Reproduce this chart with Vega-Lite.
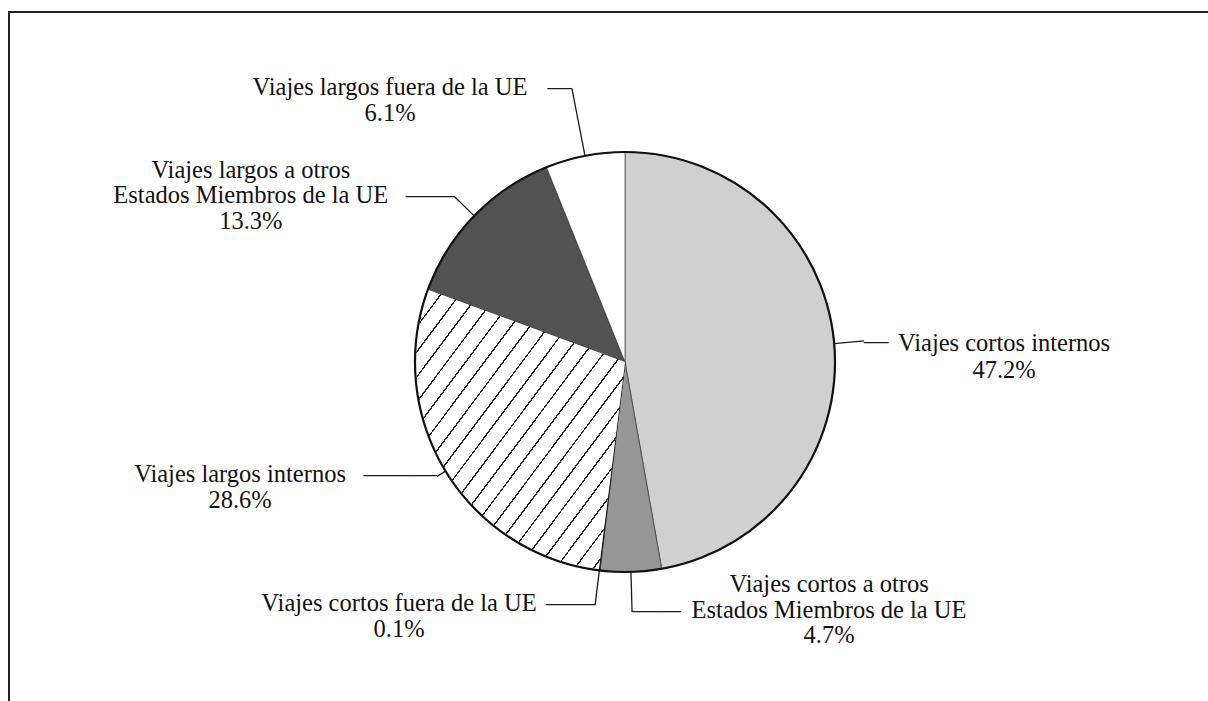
{
  "$schema": "https://vega.github.io/schema/vega-lite/v6.json",
  "width": 1232,
  "height": 700,
  "autosize": {"type": "none"},
  "padding": {"left": 9, "top": 12, "right": -33, "bottom": -11},
  "background": "white",
  "config": {"view": {"stroke": "#222222", "strokeWidth": 2}},
  "data": {
    "values": [
      {"orden": 1, "categoria": "Viajes cortos internos", "valor": 47.2, "lineas": ["Viajes cortos internos", "47.2%"]},
      {"orden": 2, "categoria": "Viajes cortos a otros Estados Miembros de la UE", "valor": 4.7, "lineas": ["Viajes cortos a otros", "Estados Miembros de la UE", "4.7%"]},
      {"orden": 3, "categoria": "Viajes cortos fuera de la UE", "valor": 0.1, "lineas": ["Viajes cortos fuera de la UE", "0.1%"]},
      {"orden": 4, "categoria": "Viajes largos internos", "valor": 28.6, "lineas": ["Viajes largos internos", "28.6%"]},
      {"orden": 5, "categoria": "Viajes largos a otros Estados Miembros de la UE", "valor": 13.3, "lineas": ["Viajes largos a otros", "Estados Miembros de la UE", "13.3%"]},
      {"orden": 6, "categoria": "Viajes largos fuera de la UE", "valor": 6.1, "lineas": ["Viajes largos fuera de la UE", "6.1%"]}
    ]
  },
  "transform": [
    {"window": [{"op": "sum", "field": "valor", "as": "acum"}], "sort": [{"field": "orden"}], "frame": [null, 0]},
    {"calculate": "datum.acum - datum.valor / 2", "as": "mid"}
  ],
  "layer": [
    {
      "mark": {"type": "rule", "strokeOpacity": 0},
      "encoding": {"x": {"datum": 0, "type": "quantitative", "scale": {"domain": [0, 1]}, "axis": null}}
    },
    {
      "mark": {"type": "arc", "outerRadius": 210, "stroke": "#222222", "strokeWidth": 0.6},
      "encoding": {
        "theta": {"field": "valor", "type": "quantitative", "stack": true, "scale": {"domain": [0, 100]}},
        "order": {"field": "orden", "type": "quantitative"},
        "color": {
          "field": "categoria", "type": "nominal", "legend": null,
          "scale": {
            "domain": ["Viajes cortos internos", "Viajes cortos a otros Estados Miembros de la UE", "Viajes cortos fuera de la UE", "Viajes largos internos", "Viajes largos a otros Estados Miembros de la UE", "Viajes largos fuera de la UE"],
            "range": ["#d0d0d0", "#969696", "#111111", "#ffffff", "#525252", "#ffffff"]
          }
        }
      }
    },
    {
      "mark": {
        "type": "arc", "outerRadius": 209, "strokeWidth": 0,
        "fill": {
          "gradient": "linear", "x1": 0, "y1": 0, "x2": 1, "y2": 1,
          "stops": [
            {"offset": 0, "color": "#ffffff"},
            {"offset": 0.0205, "color": "#ffffff"}, {"offset": 0.0205, "color": "#222222"}, {"offset": 0.0245, "color": "#222222"}, {"offset": 0.0245, "color": "#ffffff"},
            {"offset": 0.0655, "color": "#ffffff"}, {"offset": 0.0655, "color": "#222222"}, {"offset": 0.0695, "color": "#222222"}, {"offset": 0.0695, "color": "#ffffff"},
            {"offset": 0.1105, "color": "#ffffff"}, {"offset": 0.1105, "color": "#222222"}, {"offset": 0.1145, "color": "#222222"}, {"offset": 0.1145, "color": "#ffffff"},
            {"offset": 0.1555, "color": "#ffffff"}, {"offset": 0.1555, "color": "#222222"}, {"offset": 0.1595, "color": "#222222"}, {"offset": 0.1595, "color": "#ffffff"},
            {"offset": 0.2005, "color": "#ffffff"}, {"offset": 0.2005, "color": "#222222"}, {"offset": 0.2045, "color": "#222222"}, {"offset": 0.2045, "color": "#ffffff"},
            {"offset": 0.2455, "color": "#ffffff"}, {"offset": 0.2455, "color": "#222222"}, {"offset": 0.2495, "color": "#222222"}, {"offset": 0.2495, "color": "#ffffff"},
            {"offset": 0.2905, "color": "#ffffff"}, {"offset": 0.2905, "color": "#222222"}, {"offset": 0.2945, "color": "#222222"}, {"offset": 0.2945, "color": "#ffffff"},
            {"offset": 0.3355, "color": "#ffffff"}, {"offset": 0.3355, "color": "#222222"}, {"offset": 0.3395, "color": "#222222"}, {"offset": 0.3395, "color": "#ffffff"},
            {"offset": 0.3805, "color": "#ffffff"}, {"offset": 0.3805, "color": "#222222"}, {"offset": 0.3845, "color": "#222222"}, {"offset": 0.3845, "color": "#ffffff"},
            {"offset": 0.4255, "color": "#ffffff"}, {"offset": 0.4255, "color": "#222222"}, {"offset": 0.4295, "color": "#222222"}, {"offset": 0.4295, "color": "#ffffff"},
            {"offset": 0.4705, "color": "#ffffff"}, {"offset": 0.4705, "color": "#222222"}, {"offset": 0.4745, "color": "#222222"}, {"offset": 0.4745, "color": "#ffffff"},
            {"offset": 0.5155, "color": "#ffffff"}, {"offset": 0.5155, "color": "#222222"}, {"offset": 0.5195, "color": "#222222"}, {"offset": 0.5195, "color": "#ffffff"},
            {"offset": 0.5605, "color": "#ffffff"}, {"offset": 0.5605, "color": "#222222"}, {"offset": 0.5645, "color": "#222222"}, {"offset": 0.5645, "color": "#ffffff"},
            {"offset": 0.6055, "color": "#ffffff"}, {"offset": 0.6055, "color": "#222222"}, {"offset": 0.6095, "color": "#222222"}, {"offset": 0.6095, "color": "#ffffff"},
            {"offset": 0.6505, "color": "#ffffff"}, {"offset": 0.6505, "color": "#222222"}, {"offset": 0.6545, "color": "#222222"}, {"offset": 0.6545, "color": "#ffffff"},
            {"offset": 0.6955, "color": "#ffffff"}, {"offset": 0.6955, "color": "#222222"}, {"offset": 0.6995, "color": "#222222"}, {"offset": 0.6995, "color": "#ffffff"},
            {"offset": 0.7405, "color": "#ffffff"}, {"offset": 0.7405, "color": "#222222"}, {"offset": 0.7445, "color": "#222222"}, {"offset": 0.7445, "color": "#ffffff"},
            {"offset": 0.7855, "color": "#ffffff"}, {"offset": 0.7855, "color": "#222222"}, {"offset": 0.7895, "color": "#222222"}, {"offset": 0.7895, "color": "#ffffff"},
            {"offset": 0.8305, "color": "#ffffff"}, {"offset": 0.8305, "color": "#222222"}, {"offset": 0.8345, "color": "#222222"}, {"offset": 0.8345, "color": "#ffffff"},
            {"offset": 0.8755, "color": "#ffffff"}, {"offset": 0.8755, "color": "#222222"}, {"offset": 0.8795, "color": "#222222"}, {"offset": 0.8795, "color": "#ffffff"},
            {"offset": 0.9205, "color": "#ffffff"}, {"offset": 0.9205, "color": "#222222"}, {"offset": 0.9245, "color": "#222222"}, {"offset": 0.9245, "color": "#ffffff"},
            {"offset": 0.9655, "color": "#ffffff"}, {"offset": 0.9655, "color": "#222222"}, {"offset": 0.9695, "color": "#222222"}, {"offset": 0.9695, "color": "#ffffff"},
            {"offset": 1, "color": "#ffffff"}
          ]
        }
      },
      "encoding": {
        "theta": {"field": "valor", "type": "quantitative", "stack": true, "scale": {"domain": [0, 100]}},
        "order": {"field": "orden", "type": "quantitative"},
        "fillOpacity": {"condition": {"test": "datum.orden == 4", "value": 1}, "value": 0}
      }
    },
    {
      "mark": {"type": "arc", "outerRadius": 210, "fillOpacity": 0, "stroke": "#111111", "strokeWidth": 2.2},
      "encoding": {
        "theta": {"aggregate": "sum", "field": "valor", "type": "quantitative", "scale": {"domain": [0, 100]}}
      }
    },
    {
      "transform": [{"filter": "datum.orden == 1"}],
      "encoding": {"theta": {"field": "mid", "type": "quantitative", "stack": null, "scale": {"domain": [0, 100]}}},
      "layer": [
        {"mark": {"type": "arc", "innerRadius": 210, "outerRadius": 240, "fillOpacity": 0, "stroke": "#1a1a1a", "strokeWidth": 1.3}, "encoding": {"theta2": {"field": "mid"}}},
        {"mark": {"type": "text", "text": "—", "radius": 240, "align": "left", "baseline": "middle", "dy": 1, "font": "Liberation Serif", "fontSize": 24.5, "fill": "#1a1a1a"}},
        {"mark": {"type": "text", "radius": 240, "align": "center", "baseline": "top", "dx": 140, "dy": -9, "font": "Liberation Serif", "fontSize": 24.5, "lineHeight": 27, "fill": "#111111"}, "encoding": {"text": {"field": "lineas"}}}
      ]
    },
    {
      "transform": [{"filter": "datum.orden == 2"}],
      "encoding": {"theta": {"field": "mid", "type": "quantitative", "stack": null, "scale": {"domain": [0, 100]}}},
      "layer": [
        {"mark": {"type": "arc", "innerRadius": 210, "outerRadius": 250, "fillOpacity": 0, "stroke": "#1a1a1a", "strokeWidth": 1.3}, "encoding": {"theta2": {"field": "mid"}}},
        {"mark": {"type": "text", "text": "——", "radius": 250, "align": "left", "baseline": "middle", "dy": -1, "font": "Liberation Serif", "fontSize": 24.5, "fill": "#1a1a1a"}},
        {"mark": {"type": "text", "radius": 250, "align": "center", "baseline": "top", "dx": 197, "dy": -38.5, "font": "Liberation Serif", "fontSize": 24.5, "lineHeight": 25.5, "fill": "#111111"}, "encoding": {"text": {"field": "lineas"}}}
      ]
    },
    {
      "transform": [{"filter": "datum.orden == 3"}],
      "encoding": {"theta": {"field": "mid", "type": "quantitative", "stack": null, "scale": {"domain": [0, 100]}}},
      "layer": [
        {"mark": {"type": "arc", "innerRadius": 210, "outerRadius": 245, "fillOpacity": 0, "stroke": "#1a1a1a", "strokeWidth": 1.3}, "encoding": {"theta2": {"field": "mid"}}},
        {"mark": {"type": "text", "text": "——", "radius": 245, "align": "right", "baseline": "middle", "dy": -1, "font": "Liberation Serif", "fontSize": 24.5, "fill": "#1a1a1a"}},
        {"mark": {"type": "text", "radius": 245, "align": "center", "baseline": "top", "dx": -196, "dy": -13, "font": "Liberation Serif", "fontSize": 24.5, "lineHeight": 26, "fill": "#111111"}, "encoding": {"text": {"field": "lineas"}}}
      ]
    },
    {
      "transform": [{"filter": "datum.orden == 4"}],
      "encoding": {"theta": {"field": "mid", "type": "quantitative", "stack": null, "scale": {"domain": [0, 100]}}},
      "layer": [
        {"mark": {"type": "arc", "innerRadius": 210, "outerRadius": 220, "fillOpacity": 0, "stroke": "#1a1a1a", "strokeWidth": 1.3}, "encoding": {"theta2": {"field": "mid"}}},
        {"mark": {"type": "text", "text": "———", "radius": 220, "align": "right", "baseline": "middle", "dy": -1, "font": "Liberation Serif", "fontSize": 24.5, "fill": "#1a1a1a"}},
        {"mark": {"type": "text", "radius": 220, "align": "center", "baseline": "top", "dx": -197, "dy": -13, "font": "Liberation Serif", "fontSize": 24.5, "lineHeight": 25.5, "fill": "#111111"}, "encoding": {"text": {"field": "lineas"}}}
      ]
    },
    {
      "transform": [{"filter": "datum.orden == 5"}],
      "encoding": {"theta": {"field": "mid", "type": "quantitative", "stack": null, "scale": {"domain": [0, 100]}}},
      "layer": [
        {"mark": {"type": "arc", "innerRadius": 210, "outerRadius": 237, "fillOpacity": 0, "stroke": "#1a1a1a", "strokeWidth": 1.3}, "encoding": {"theta2": {"field": "mid"}}},
        {"mark": {"type": "text", "text": "——", "radius": 237, "align": "right", "baseline": "middle", "dy": -1, "font": "Liberation Serif", "fontSize": 24.5, "fill": "#1a1a1a"}},
        {"mark": {"type": "text", "radius": 237, "align": "center", "baseline": "top", "dx": -204, "dy": -38.5, "font": "Liberation Serif", "fontSize": 24.5, "lineHeight": 25.5, "fill": "#111111"}, "encoding": {"text": {"field": "lineas"}}}
      ]
    },
    {
      "transform": [{"filter": "datum.orden == 6"}],
      "encoding": {"theta": {"field": "mid", "type": "quantitative", "stack": null, "scale": {"domain": [0, 100]}}},
      "layer": [
        {"mark": {"type": "arc", "innerRadius": 210, "outerRadius": 278, "fillOpacity": 0, "stroke": "#1a1a1a", "strokeWidth": 1.3}, "encoding": {"theta2": {"field": "mid"}}},
        {"mark": {"type": "text", "text": "—", "radius": 278, "align": "right", "baseline": "middle", "dy": -1, "font": "Liberation Serif", "fontSize": 24.5, "fill": "#1a1a1a"}},
        {"mark": {"type": "text", "radius": 278, "align": "center", "baseline": "top", "dx": -182, "dy": -13, "font": "Liberation Serif", "fontSize": 24.5, "lineHeight": 25.5, "fill": "#111111"}, "encoding": {"text": {"field": "lineas"}}}
      ]
    }
  ]
}
